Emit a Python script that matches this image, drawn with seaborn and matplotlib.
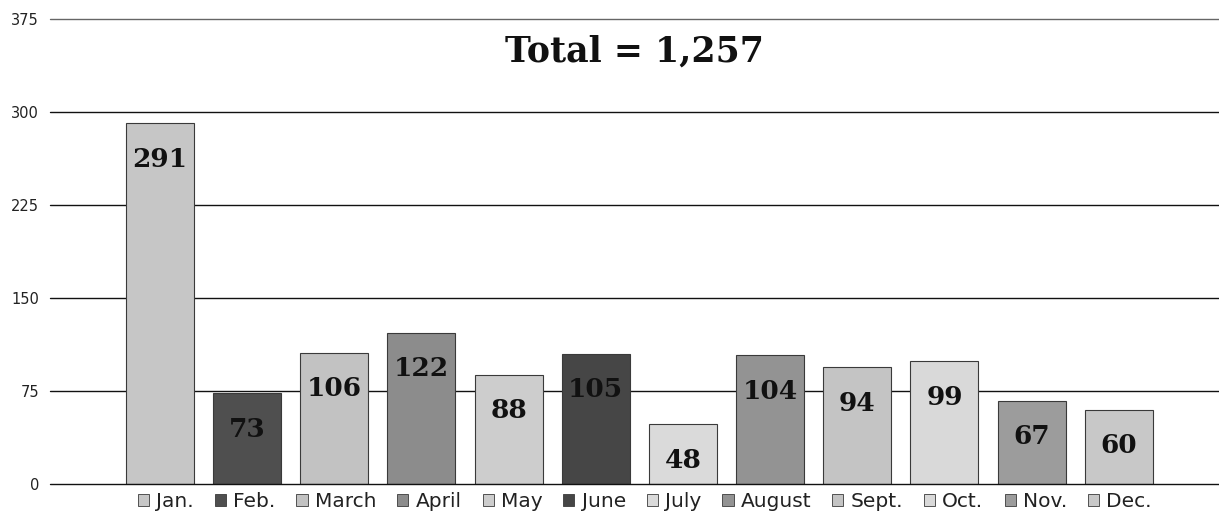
import matplotlib
matplotlib.use("Agg")
import matplotlib.pyplot as plt
import pandas as pd
import seaborn as sns
from matplotlib.patches import Patch

MONTHS = ["Jan.", "Feb.", "March", "April", "May", "June",
          "July", "August", "Sept.", "Oct.", "Nov.", "Dec."]
COUNTS = [291, 73, 106, 122, 88, 105, 48, 104, 94, 99, 67, 60]
COLORS = ["#c6c6c6", "#4f4f4f", "#c2c2c2", "#8c8c8c", "#cdcdcd", "#464646",
          "#dadada", "#939393", "#c4c4c4", "#d9d9d9", "#9c9c9c", "#c8c8c8"]
Y_TICKS = [0, 75, 150, 225, 300, 375]
TITLE = "Total = 1,257"

df = pd.DataFrame({"month": MONTHS, "count": COUNTS})

sns.set_style("white")
plt.rcParams["font.family"] = ["DejaVu Sans"]

fig = plt.figure(figsize=(12.19, 5.19), dpi=100)
ax = fig.add_axes([50 / 1219, 35 / 519, 1169 / 1219, 465 / 519])

sns.barplot(data=df, x="month", y="count", hue="month", order=MONTHS,
            hue_order=MONTHS, palette=COLORS, width=0.78, dodge=False,
            edgecolor="#3a3a3a", linewidth=0.8, legend=False, ax=ax, zorder=3)

ax.set_ylim(0, 375)
ax.set_xlim(-1.26, 12.15)
ax.set_yticks(Y_TICKS)
ax.set_yticklabels([str(t) for t in Y_TICKS], fontsize=10.5, color="#222222")
ax.tick_params(axis="y", length=0, pad=8)
ax.set_xticks([])
ax.set_xlabel("")
ax.set_ylabel("")
for s in ax.spines.values():
    s.set_visible(False)
for t in Y_TICKS:
    ax.axhline(t, color="#111111" if t < 375 else "#666666", lw=1.0,
               zorder=1 if t > 0 else 5, clip_on=False)

# value labels just inside the top of each bar
for i, v in enumerate(COUNTS):
    ax.annotate(str(v), (i, v), xytext=(0, -36), textcoords="offset pixels",
                ha="center", va="center", fontsize=19, fontweight="bold",
                family="DejaVu Serif", color="#111111", zorder=4)

ax.text(0.5, 0.93, TITLE, transform=ax.transAxes, ha="center", va="center",
        fontsize=25, fontweight="bold", family="DejaVu Serif", color="#111111")

handles = [Patch(facecolor=c, edgecolor="#3a3a3a", lw=0.6) for c in COLORS]
fig.legend(handles, MONTHS, loc="center", bbox_to_anchor=(0.529, 0.033),
           ncol=12, frameon=False, fontsize=14.5, handlelength=0.55,
           handleheight=0.55, handletextpad=0.35, columnspacing=1.05,
           labelcolor="#222222")

fig.savefig("out.png", dpi=100)
